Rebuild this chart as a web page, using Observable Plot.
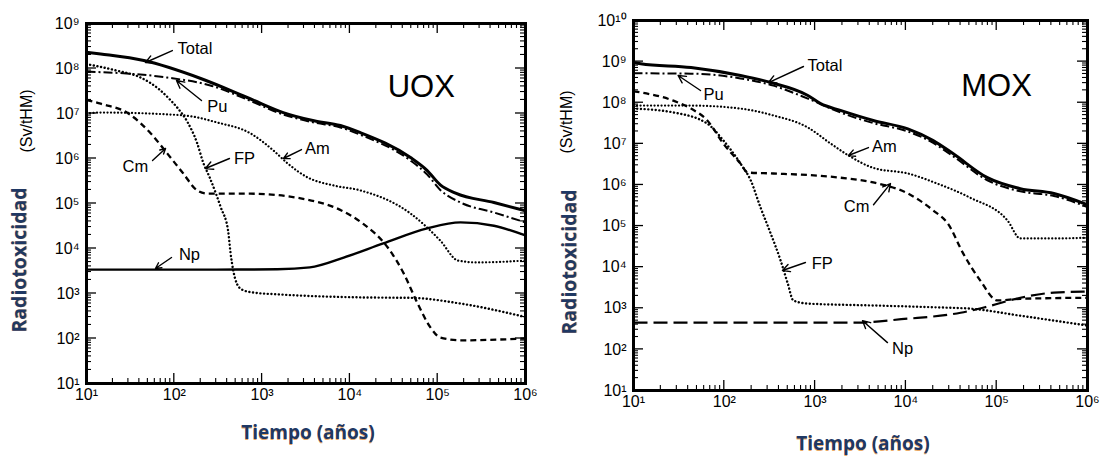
<!DOCTYPE html>
<html><head><meta charset="utf-8">
<script src="https://cdn.jsdelivr.net/npm/d3@7"></script>
<script src="https://cdn.jsdelivr.net/npm/@observablehq/plot@0.6"></script>
<style>
body{margin:0;background:#fff;}
#wrap{position:relative;width:1102px;height:461px;overflow:hidden;background:#fff;}
.panel{position:absolute;top:0;}
.lbl{position:absolute;white-space:nowrap;transform:translate(-50%,-50%);line-height:1;}
.rot{transform:translate(-50%,-50%) rotate(-90deg);}
.big{font-family:"Open Sans",sans-serif;font-weight:700;color:#1f3864;text-shadow:0 1px 0 rgba(225,140,50,0.75);}
.unit{font-family:"Liberation Sans",Arial,sans-serif;font-size:16px;color:#000;}
</style></head>
<body><div id="wrap"></div>
<script>
// ---------- UOX panel data (years, Sv/tHM) ----------
const uoxTotal = [[10,2.3e8],[14.5,2.1e8],[45,1.5e8],[200,6.0e7],[740,2.1e7],[1740,1.05e7],[3900,6.9e6],[7800,5.4e6],[13000,3.8e6],[49000,1.05e6],[76000,5.4e5],[107000,2.6e5],[160000,1.7e5],[437000,1.05e5],[1e6,6.9e4]];
const uoxPu = [[10,8.5e7],[14.5,8.3e7],[83,6.3e7],[257,4.2e7],[740,1.9e7],[1740,9.5e6],[3900,6.3e6],[7800,4.9e6],[13000,3.4e6],[49000,9.0e5],[76000,4.4e5],[107000,2.0e5],[182000,1.05e5],[437000,6.3e4],[1e6,3.8e4]];
const uoxFP = [[10,1.25e8],[22,9e7],[42,6.2e7],[69,3.3e7],[90,2.0e7],[110,1.3e7],[141,6.5e6],[182,2.2e6],[214,8e5],[250,4.0e5],[300,1.6e5],[340,8e4],[410,2.5e4],[437,8e3],[470,3.2e3],[520,1.6e3],[600,1.2e3],[800,1.05e3],[1600,9.5e2],[13000,8.2e2],[50000,8.0e2],[180000,6.0e2],[1e6,3.0e2]];
const uoxAm = [[10,1.0e7],[14.5,1.05e7],[126,9.1e6],[309,6.3e6],[740,3.6e6],[1350,1.5e6],[1950,7.8e5],[3300,3.8e5],[6600,2.5e5],[13200,1.95e5],[49000,6.0e4],[107000,1.5e4],[170000,5.4e3],[282000,4.9e3],[1e6,5.4e3]];
const uoxCm = [[10,2.0e7],[14.5,1.65e7],[30,1.0e7],[54,3.6e6],[83,1.3e6],[126,4.7e5],[182,1.95e5],[240,1.65e5],[740,1.65e5],[2750,1.3e5],[8000,7e4],[14000,3.6e4],[27000,1.05e4],[41000,2.8e3],[59000,6.0e2],[83000,1.74e2],[107000,1.05e2],[182000,9.1e1],[1e6,1.0e2]];
const uoxNp = [[10,3.4e3],[300,3.4e3],[1500,3.45e3],[3500,3.8e3],[8500,6.3e3],[24000,1.3e4],[76000,2.8e4],[182000,3.8e4],[437000,3.2e4],[1e6,1.95e4]];
const uoxLabels = [
  {name:"Total", x:109, y:2.8e8, anchor:"start"},
  {name:"Pu", x:310, y:1.43e7, anchor:"middle"},
  {name:"Am", x:4270, y:1.67e6, anchor:"middle"},
  {name:"FP", x:630, y:1.0e6, anchor:"middle"},
  {name:"Cm", x:36, y:6.6e5, anchor:"middle"},
  {name:"Np", x:149, y:7.4e3, anchor:"middle"}
];
const uoxArrows = [
  {x1:95, y1:2.5e8, x2:47, y2:1.36e8},
  {x1:204, y1:1.95e7, x2:106, y2:5.4e7},
  {x1:2810, y1:1.58e6, x2:1750, y2:1.0e6},
  {x1:425, y1:1.0e6, x2:226, y2:6.0e5},
  {x1:56.5, y1:9.0e5, x2:79.5, y2:1.67e6},
  {x1:93, y1:6.3e3, x2:61, y2:3.6e3}
];
const uoxTitle = {name:"UOX", x:65000, y:3.8e7};
const uoxYTicks = [1e1,1e2,1e3,1e4,1e5,1e6,1e7,1e8,1e9];
const uoxYTickLabels = ["10¹","10²","10³","10⁴","10⁵","10⁶","10⁷","10⁸","10⁹"];

// ---------- MOX panel data ----------
const moxTotal = [[10,9.5e8],[12,8.9e8],[43,7.2e8],[151,4.6e8],[324,3.1e8],[832,1.5e8],[1150,9.5e7],[1900,6.5e7],[4370,3.7e7],[10500,2.3e7],[20000,1.2e7],[33000,5.8e6],[79000,1.5e6],[182000,8.1e5],[427000,6.2e5],[1e6,3.3e5]];
const moxPu = [[10,5.2e8],[43,5.1e8],[151,3.9e8],[347,2.6e8],[832,1.26e8],[1900,5.8e7],[4370,3.2e7],[10500,2.0e7],[20000,1.05e7],[33000,5.0e6],[79000,1.3e6],[182000,7.0e5],[427000,5.4e5],[1e6,2.9e5]];
const moxAm = [[10,8.5e7],[43,8.5e7],[151,7.2e7],[347,4.9e7],[832,2.5e7],[1480,1.02e7],[2340,5.2e6],[4370,2.6e6],[10500,1.9e6],[22400,1.07e6],[51000,4.9e5],[132000,1.35e5],[182000,5.0e4],[427000,5.0e4],[1e6,5.2e4]];
const moxCm = [[10,1.9e8],[27.5,1.12e8],[43,7.2e7],[65,3.7e7],[98,1.0e7],[151,3.3e6],[182,2.0e6],[347,1.9e6],[1900,1.5e6],[4370,1.15e6],[10500,6.2e5],[20000,2.4e5],[29000,1.15e5],[43000,2.1e4],[66000,4.7e3],[102000,1.55e3],[182000,1.7e3],[1e6,1.8e3]];
const moxFP = [[10,7.2e7],[27.5,5.8e7],[65,3.1e7],[98,1.2e7],[151,3.3e6],[195,1.3e6],[251,2.8e5],[324,6.6e4],[417,1.45e4],[500,4.0e3],[575,1.55e3],[832,1.3e3],[4370,1.17e3],[22400,1.05e3],[51000,9.8e2],[182000,6.6e2],[1e6,3.8e2]];
const moxNp = [[10,4.5e2],[3000,4.5e2],[10500,5.6e2],[14500,5.9e2],[40000,7.8e2],[79000,1.1e3],[182000,1.8e3],[427000,2.4e3],[1e6,2.55e3]];
const moxLabels = [
  {name:"Total", x:824, y:8.0e8, anchor:"start"},
  {name:"Pu", x:76, y:1.58e8, anchor:"middle"},
  {name:"Am", x:5800, y:8.6e6, anchor:"middle"},
  {name:"Cm", x:2860, y:3.0e5, anchor:"middle"},
  {name:"FP", x:1200, y:1.22e4, anchor:"middle"},
  {name:"Np", x:9200, y:105, anchor:"middle"}
];
const moxArrows = [
  {x1:745, y1:7.6e8, x2:307, y2:3.1e8},
  {x1:54.7, y1:1.98e8, x2:31, y2:4.6e8},
  {x1:3870, y1:8.1e6, x2:2330, y2:5.2e6},
  {x1:4400, y1:3.3e5, x2:6760, y2:1.08e6},
  {x1:783, y1:1.3e4, x2:437, y2:8.3e3},
  {x1:6270, y1:146, x2:3330, y2:500}
];
const moxTitle = {name:"MOX", x:99600, y:2.5e8};
const moxYTicks = [1e1,1e2,1e3,1e4,1e5,1e6,1e7,1e8,1e9,1e10];
const moxYTickLabels = ["10¹","10²","10³","10⁴","10⁵","10⁶","10⁷","10⁸","10⁹","10¹⁰"];

const xTicks = [1e1,1e2,1e3,1e4,1e5,1e6];
const xTickLabels = ["10¹","10²","10³","10⁴","10⁵","10⁶"];
const yTitle = "Radiotoxicidad";
const yUnit = "(Sv/tHM)";
const xTitle = "Tiempo (años)";

// ---------- drawing ----------
function minors(majors){
  const out = [];
  for (let i = 0; i < majors.length - 1; i++) for (let k = 2; k <= 9; k++) out.push(majors[i]*k);
  return out;
}
const FONT = "Liberation Sans";

// custom mark: inward ticks on all four sides, positioned through Plot's scales
function inwardTicks(xMaj, xMin, yMaj, yMin, MJ, MN){
  return function(index, scales, values, dim){
    const sx = scales.x, sy = scales.y;
    const l = dim.marginLeft, t = dim.marginTop;
    const r = dim.width - dim.marginRight, b = dim.height - dim.marginBottom;
    const g = d3.create("svg:g").attr("stroke","#000").attr("fill","none");
    const add = (x1,y1,x2,y2,w)=>g.append("line").attr("x1",x1).attr("y1",y1).attr("x2",x2).attr("y2",y2).attr("stroke-width",w);
    for (const d of xMaj){ const x = sx(d); add(x,b,x,b-MJ,1.3); add(x,t,x,t+MJ,1.3); }
    for (const d of xMin){ const x = sx(d); add(x,b,x,b-MN,1.1); add(x,t,x,t+MN,1.1); }
    for (const d of yMaj){ const y = sy(d); add(l,y,l+MJ,y,1.3); add(r,y,r-MJ,y,1.3); }
    for (const d of yMin){ const y = sy(d); add(l,y,l+MN,y,1.1); add(r,y,r-MN,y,1.1); }
    return g.node();
  };
}

function panel(cfg){
  const xLab = new Map(xTicks.map((d,i)=>[d, xTickLabels[i]]));
  const yLab = new Map(cfg.yTicks.map((d,i)=>[d, cfg.yTickLabels[i]]));
  const pts = arr => arr.map(([t,v])=>({t,v}));
  const marks = [];
  for (const s of cfg.series){
    marks.push(Plot.line(pts(s.data),{x:"t", y:"v", stroke:"#000", strokeWidth:s.w, strokeDasharray:s.dash, strokeLinecap:s.cap||"butt", curve:"monotone-x", clip:true}));
  }
  marks.push(
    Plot.arrow(cfg.arrows,{x1:"x1",y1:"y1",x2:"x2",y2:"y2", stroke:"#000", strokeWidth:1.4, headLength:9, headAngle:55}),
    Plot.text(cfg.labels.filter(d=>d.anchor==="start"),{x:"x", y:"y", text:"name", textAnchor:"start", fontSize:16.5, fill:"#000"}),
    Plot.text(cfg.labels.filter(d=>d.anchor!=="start"),{x:"x", y:"y", text:"name", textAnchor:"middle", fontSize:16.5, fill:"#000"}),
    Plot.text([cfg.title],{x:"x", y:"y", text:"name", fontSize:31, fill:"#000"}),
    // tick labels drawn as text marks placed by the scales
    Plot.text(xTicks,{x:d=>d, text:d=>xLab.get(d), frameAnchor:"bottom", lineAnchor:"top", dy:cfg.xPad, fontSize:16, fill:"#000"}),
    Plot.text(cfg.yTicks,{y:d=>d, text:d=>yLab.get(d), frameAnchor:"left", textAnchor:"end", dx:-7, fontSize:16, fill:"#000"}),
    inwardTicks(xTicks, minors(xTicks), cfg.yTicks, minors(cfg.yTicks), 10, 5),
    Plot.frame({stroke:"#000", strokeWidth:3})
  );
  return Plot.plot({
    width: cfg.width, height: cfg.height,
    marginLeft: cfg.ml, marginRight: cfg.mr, marginTop: cfg.mt, marginBottom: cfg.mb,
    x:{type:"log", domain:[1e1,1e6], axis:null},
    y:{type:"log", domain:[cfg.yTicks[0], cfg.yTicks[cfg.yTicks.length-1]], axis:null},
    style:{fontFamily:FONT, fontSize:"16px", background:"#fff", overflow:"visible"},
    marks
  });
}

const styles = {
  Total:{w:3, dash:null},
  Pu:{w:2, dash:"9,3,2,3"},
  FP:{w:2.4, dash:"0.1,3.6", cap:"round"},
  Am:{w:2.2, dash:"0.1,3.4", cap:"round"},
  Cm:{w:2.3, dash:"6,4"},
};

const wrap = document.getElementById("wrap");
const left = panel({
  width:550, height:461, ml:86, mr:25, mt:23, mb:78, xPad:5,
  yTicks:uoxYTicks, yTickLabels:uoxYTickLabels,
  labels:uoxLabels, arrows:uoxArrows, title:uoxTitle,
  series:[
    {data:uoxTotal, ...styles.Total},
    {data:uoxPu, ...styles.Pu},
    {data:uoxFP, ...styles.FP},
    {data:uoxAm, ...styles.Am},
    {data:uoxCm, ...styles.Cm},
    {data:uoxNp, w:2.4, dash:null}
  ]
});
left.classList.add("panel"); left.style.left = "0px";
wrap.appendChild(left);

const right = panel({
  width:552, height:461, ml:83, mr:15, mt:20, mb:71, xPad:5,
  yTicks:moxYTicks, yTickLabels:moxYTickLabels,
  labels:moxLabels, arrows:moxArrows, title:moxTitle,
  series:[
    {data:moxTotal, ...styles.Total},
    {data:moxPu, ...styles.Pu},
    {data:moxFP, ...styles.FP},
    {data:moxAm, ...styles.Am},
    {data:moxCm, ...styles.Cm},
    {data:moxNp, w:2.2, dash:"14,6"}
  ]
});
right.classList.add("panel"); right.style.left = "550px";
wrap.appendChild(right);

function addText(txt, cls, x, y, size){
  const d = document.createElement("div");
  d.className = "lbl " + cls;
  d.textContent = txt;
  d.style.left = x + "px"; d.style.top = y + "px";
  if (size) d.style.fontSize = size + "px";
  wrap.appendChild(d);
}
addText(yTitle, "big rot", 19, 260, 19.5);
addText(yUnit, "unit rot", 27, 121);
addText(xTitle, "big", 308, 432, 19);
addText(yTitle, "big rot", 569, 262, 19.5);
addText(yUnit, "unit rot", 567, 122);
addText(xTitle, "big", 863, 443, 19);
</script>
</body></html>
